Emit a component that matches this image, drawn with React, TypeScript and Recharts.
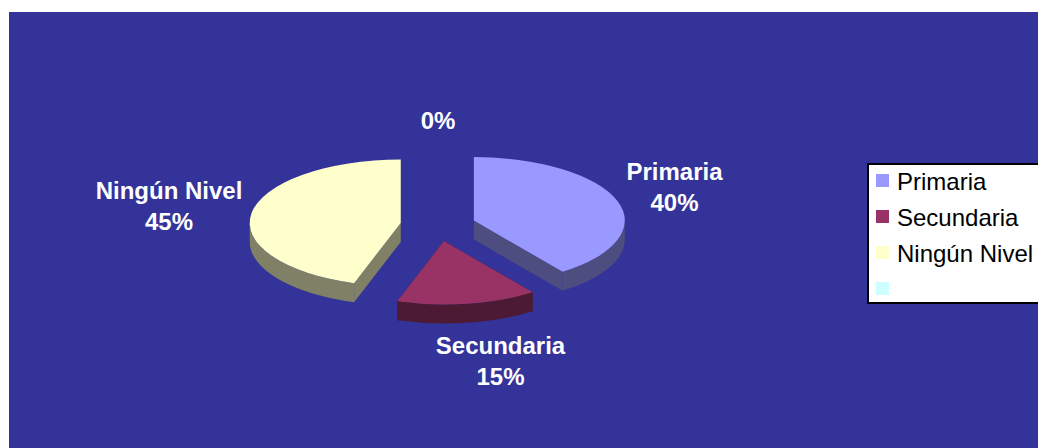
import React from "react";
import { PieChart, Pie, Legend } from "recharts";

const categories = ["Primaria", "Secundaria", "Ningún Nivel", ""];
const shares = [40, 15, 45, 0];
const fills = ["#9999ff", "#993366", "#ffffcc", "#ccffff"];
const walls = ["#4d4d80", "#4d1a33", "#808066", "#668080"];

const chartData = categories.map((name, i) => ({
  name,
  value: shares[i],
  fill: fills[i],
  wall: walls[i],
}));

const SQUASH = 0.42;
const DEPTH = 19;
const EXPLODE = 37.7;
const LABEL_OFFSETS = [
  [236.5, -45.4],
  [62.5, 128.6],
  [-269, -26.4],
  [0, -96.4],
];
const LINE_GAP = 31;
const FONT = "'Liberation Sans', Arial, sans-serif";

function Slice3D(props: any) {
  const { cx, cy, outerRadius: r, startAngle, endAngle, fill, payload } = props;
  const s = 90 - startAngle;
  const e = 90 - endAngle;
  if (Math.abs(e - s) < 0.001) return <g />;
  const rad = (d: number) => (d * Math.PI) / 180;
  const mid = rad((s + e) / 2);
  const ox = cx + EXPLODE * Math.sin(mid);
  const oy = cy - EXPLODE * SQUASH * Math.cos(mid);
  const ry = r * SQUASH;
  const pt = (d: number, drop = 0) => [
    ox + r * Math.sin(rad(d)),
    oy - ry * Math.cos(rad(d)) + drop,
  ];
  const fmt = (p: number[]) => `${p[0].toFixed(2)} ${p[1].toFixed(2)}`;
  const apex = [ox, oy];
  const apexLow = [ox, oy + DEPTH];
  const radial = (d: number) =>
    `M${fmt(apex)} L${fmt(pt(d))} L${fmt(pt(d, DEPTH))} L${fmt(apexLow)} Z`;
  const a = Math.max(s, 90);
  const b = Math.min(e, 270);
  const outer =
    b > a
      ? `M${fmt(pt(a))} A${r} ${ry} 0 0 1 ${fmt(pt(b))} L${fmt(pt(b, DEPTH))} A${r} ${ry} 0 0 0 ${fmt(pt(a, DEPTH))} Z`
      : "";
  const large = e - s > 180 ? 1 : 0;
  const top = `M${fmt(apex)} L${fmt(pt(s))} A${r} ${ry} 0 ${large} 1 ${fmt(pt(e))} Z`;
  return (
    <g>
      <path d={radial(s)} fill={payload.wall} />
      <path d={radial(e)} fill={payload.wall} />
      {outer && <path d={outer} fill={payload.wall} />}
      <path d={top} fill={fill} />
    </g>
  );
}

function SliceLabel(props: any) {
  const { cx, cy, index, name, percent } = props;
  const [dx, dy] = LABEL_OFFSETS[index];
  const x = cx + dx;
  const y = cy + dy;
  const pct = `${Math.round(percent * 100)}%`;
  const common = {
    textAnchor: "middle" as const,
    fill: "#ffffff",
    fontFamily: FONT,
    fontSize: 24,
    fontWeight: 700,
  };
  return (
    <g>
      {name ? (
        <>
          <text x={x} y={y} {...common}>{name}</text>
          <text x={x} y={y + LINE_GAP} {...common}>{pct}</text>
        </>
      ) : (
        <text x={x} y={y} {...common}>{pct}</text>
      )}
    </g>
  );
}

function LegendBox(props: any) {
  const items = props.payload || [];
  return (
    <div
      style={{
        boxSizing: "border-box",
        width: 190,
        height: 141,
        background: "#ffffff",
        border: "2px solid #000000",
        padding: "0 0 0 7px",
        fontFamily: FONT,
        fontSize: 24,
        color: "#000000",
      }}
    >
      <div style={{ marginTop: -2.5 }}>
        {items.map((it: any, i: number) => (
          <div key={i} style={{ display: "flex", alignItems: "center", height: 36, whiteSpace: "nowrap" }}>
            <span style={{ width: 13, height: 13, background: it.color, marginRight: 8, flex: "none" }} />
            <span style={{ position: "relative", top: 1 }}>{it.value}</span>
          </div>
        ))}
      </div>
    </div>
  );
}

export default function App() {
  return (
    <div style={{ position: "absolute", left: 0, top: 0, width: 1038, height: 448, overflow: "hidden", background: "#ffffff" }}>
      <div style={{ position: "absolute", left: 9, top: 12, right: 0, bottom: 0, background: "#333399" }} />
      <div style={{ position: "absolute", left: 0, top: 0 }}>
        <PieChart width={1038} height={448} margin={{ top: 0, right: 0, bottom: 0, left: 0 }}>
          <Pie
            data={chartData}
            dataKey="value"
            nameKey="name"
            cx={438}
            cy={225.4}
            innerRadius={0}
            outerRadius={151}
            startAngle={90}
            endAngle={-270}
            stroke="none"
            shape={Slice3D}
            label={SliceLabel}
            labelLine={false}
            isAnimationActive={false}
          />
          <Legend
            itemSorter={null}
            content={<LegendBox />}
            wrapperStyle={{ position: "absolute", left: 867, top: 163, width: 190, height: 141, bottom: "auto", right: "auto" }}
          />
        </PieChart>
      </div>
    </div>
  );
}
